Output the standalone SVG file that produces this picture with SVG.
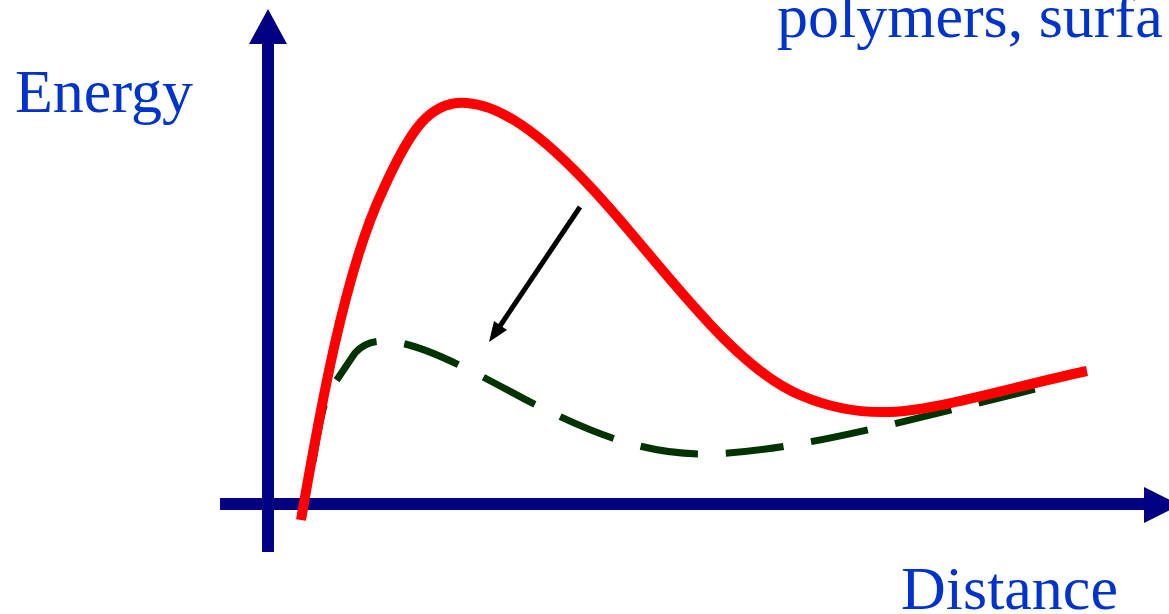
<svg xmlns="http://www.w3.org/2000/svg" width="1169" height="614" viewBox="0 0 1169 614">
<style>
.lbl{font-family:"Liberation Serif","Times New Roman",serif;font-size:62px;fill:#0033cc}
.axis{stroke:#000080;stroke-width:12;fill:none}
.head{fill:#000080}
</style>
<rect width="1169" height="614" fill="#ffffff"/>
<g id="axes">
<line class="axis" x1="268" y1="552" x2="268" y2="40"/>
<polygon class="head" points="268,9 249,44 287,44"/>
<line class="axis" x1="220" y1="504" x2="1148" y2="504"/>
<polygon class="head" points="1144,487 1144,523 1180,505"/>
</g>
<g id="labels">
<text class="lbl" x="15" y="112">Energy</text>
<text class="lbl" x="901" y="609">Distance</text>
<text class="lbl" x="777" y="37">polymers, surfa</text>
</g>
<g id="curves">
<path id="dashed-curve" d="M313,462 C318,432 322,406 330,390 L355,353 C362,345 370,341 385,341 C420,342 470,370 530,402 C590,432 640,453 700,454 C780,454 880,428 1055,384" fill="none" stroke="#003300" stroke-width="7" stroke-dasharray="58,28"/>
<path id="red-curve" d="M301,520 C320,410 345,270 383,190 C410,130 430,100 467,103 C510,106 560,150 620,220 C680,290 740,370 800,395 C830,408 860,413 890,412 C940,410 1020,385 1087,371" fill="none" stroke="#ff0000" stroke-width="10"/>
</g>
<g id="connectors">
<line x1="580" y1="207" x2="500" y2="326" stroke="#000000" stroke-width="5"/>
<polygon points="489,342 507,330 494,321" fill="#000000"/>
</g>
</svg>
